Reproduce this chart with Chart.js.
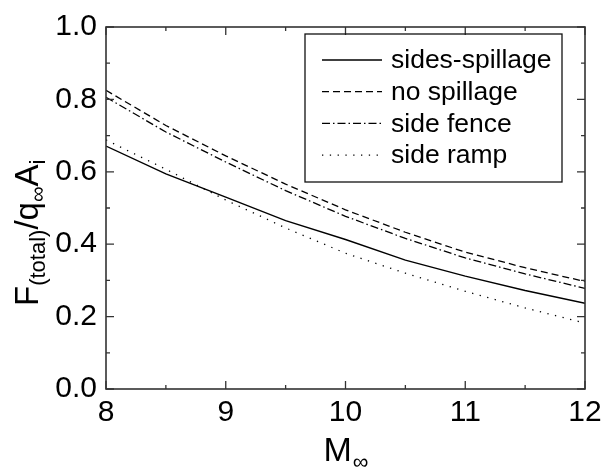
<!DOCTYPE html>
<html>
<head>
<meta charset="utf-8">
<script src="https://cdn.jsdelivr.net/npm/chart.js@4.4.1/dist/chart.umd.min.js"></script>
<style>
  html, body { margin: 0; padding: 0; background: #fff; }
  #wrap { width: 608px; height: 468px; }
</style>
</head>
<body>
<div id="wrap"><canvas id="chart" width="608" height="468"></canvas></div>
<script>
// Mach number samples
const machValues = [8, 8.5, 9, 9.5, 10, 10.5, 11, 11.5, 12];

// F(total)/q_inf A_i for each configuration
const sidesSpillage = [0.671, 0.594, 0.530, 0.465, 0.413, 0.356, 0.312, 0.272, 0.237];
const noSpillage    = [0.825, 0.728, 0.644, 0.566, 0.495, 0.433, 0.378, 0.335, 0.297];
const sideFence     = [0.806, 0.710, 0.627, 0.548, 0.477, 0.416, 0.362, 0.318, 0.278];
const sideRamp      = [0.688, 0.607, 0.522, 0.445, 0.375, 0.320, 0.270, 0.224, 0.182];

const seriesLabels = ['sides-spillage', 'no spillage', 'side fence', 'side ramp'];
const xTicks = [8, 9, 10, 11, 12];
const yTicks = [0.0, 0.2, 0.4, 0.6, 0.8, 1.0];

const FONT = '"Liberation Sans", Arial, sans-serif';
const dashes = [[], [7, 4], [8, 3, 1.5, 3], [1.3, 6.5]];
const widths = [1.4, 1.3, 1.3, 1.3];

function toPoints(values) {
    return machValues.map((m, i) => ({ x: m, y: values[i] }));
}

const allSeries = [sidesSpillage, noSpillage, sideFence, sideRamp];

// Frame with inward ticks on all four sides, Origin style
const framePlugin = {
    id: 'frame',
    afterDatasetsDraw(chart) {
        const { ctx, chartArea: a, scales } = chart;
        const xs = scales.x, ys = scales.y;
        ctx.save();
        ctx.strokeStyle = '#333';
        ctx.lineWidth = 1.6;
        ctx.strokeRect(a.left, a.top, a.right - a.left, a.bottom - a.top);
        ctx.lineWidth = 1.3;
        ctx.beginPath();
        for (let v = 8; v <= 12.001; v += 0.5) {
            const px = xs.getPixelForValue(v);
            const len = Math.abs(v - Math.round(v)) < 0.01 ? 8 : 4;
            ctx.moveTo(px, a.bottom); ctx.lineTo(px, a.bottom - len);
            ctx.moveTo(px, a.top); ctx.lineTo(px, a.top + len);
        }
        for (let k = 0; k <= 10; k++) {
            const py = ys.getPixelForValue(k / 10);
            const len = k % 2 === 0 ? 8 : 4;
            ctx.moveTo(a.left, py); ctx.lineTo(a.left + len, py);
            ctx.moveTo(a.right, py); ctx.lineTo(a.right - len, py);
        }
        ctx.stroke();
        ctx.restore();
    }
};

// Legend box in the upper right
const legendPlugin = {
    id: 'boxLegend',
    afterDraw(chart) {
        const { ctx } = chart;
        ctx.save();
        ctx.strokeStyle = '#111';
        ctx.lineWidth = 1.3;
        ctx.strokeRect(305, 34, 257, 148);
        ctx.font = '26.5px ' + FONT;
        ctx.fillStyle = '#000';
        ctx.textBaseline = 'middle';
        for (let i = 0; i < seriesLabels.length; i++) {
            const y = 60 + i * 31.7;
            ctx.beginPath();
            ctx.setLineDash(dashes[i]);
            ctx.lineWidth = widths[i];
            ctx.strokeStyle = '#000';
            ctx.moveTo(322, y); ctx.lineTo(382, y);
            ctx.stroke();
            ctx.setLineDash([]);
            ctx.fillText(seriesLabels[i], 391, y + 1);
        }
        ctx.restore();
    }
};

// Axis titles with subscripts
const titlePlugin = {
    id: 'axisTitles',
    afterDraw(chart) {
        const { ctx, chartArea: a } = chart;
        ctx.save();
        ctx.fillStyle = '#000';
        ctx.textBaseline = 'alphabetic';

        // x title: M with subscript infinity
        const big = '34px ' + FONT, small = '22px ' + FONT;
        ctx.font = big;
        const wM = ctx.measureText('M').width;
        ctx.font = small;
        const wInf = ctx.measureText('\u221e').width;
        const cx = (a.left + a.right) / 2;
        let x0 = cx - (wM + wInf) / 2;
        ctx.font = big;
        ctx.fillText('M', x0, 461);
        ctx.font = small;
        ctx.fillText('\u221e', x0 + wM + 1, 469);

        // y title: F_(total) / q_inf A_i, rotated
        const yBig = '33px ' + FONT, ySmall = '22px ' + FONT;
        const parts = [
            ['F', yBig, 0], ['(total)', ySmall, 7], ['/', yBig, 0],
            ['q', yBig, 0], ['\u221e', ySmall, 7], ['A', yBig, 0], ['i', ySmall, 7]
        ];
        ctx.translate(38, 0);
        ctx.rotate(-Math.PI / 2);
        let pos = -306;
        for (const [txt, f, dy] of parts) {
            ctx.font = f;
            ctx.fillText(txt, pos, dy);
            pos += ctx.measureText(txt).width;
        }
        ctx.restore();
    }
};

new Chart(document.getElementById('chart'), {
    type: 'line',
    data: {
        datasets: allSeries.map((vals, i) => ({
            label: seriesLabels[i],
            data: toPoints(vals),
            borderColor: '#000',
            borderWidth: widths[i],
            borderDash: dashes[i],
            pointRadius: 0,
            tension: 0,
            fill: false
        }))
    },
    options: {
        responsive: false,
        animation: false,
        devicePixelRatio: 1,
        layout: { padding: { top: 24, right: 23, left: 0, bottom: 0 } },
        plugins: {
            legend: { display: false },
            tooltip: { enabled: false }
        },
        scales: {
            x: {
                type: 'linear',
                min: 8,
                max: 12,
                afterFit(scale) { scale.height = 79; },
                afterBuildTicks(scale) { scale.ticks = xTicks.map(v => ({ value: v })); },
                grid: { display: false, drawTicks: false },
                border: { display: false },
                ticks: {
                    padding: 6,
                    color: '#000',
                    font: { family: FONT, size: 30 },
                    maxRotation: 0,
                    autoSkip: false
                }
            },
            y: {
                min: 0,
                max: 1,
                afterFit(scale) { scale.width = 106; },
                afterBuildTicks(scale) { scale.ticks = yTicks.map(v => ({ value: v })); },
                grid: { display: false, drawTicks: false },
                border: { display: false },
                ticks: {
                    padding: 9,
                    color: '#000',
                    font: { family: FONT, size: 30 },
                    callback: v => v.toFixed(1)
                }
            }
        }
    },
    plugins: [framePlugin, legendPlugin, titlePlugin]
});
</script>
</body>
</html>
